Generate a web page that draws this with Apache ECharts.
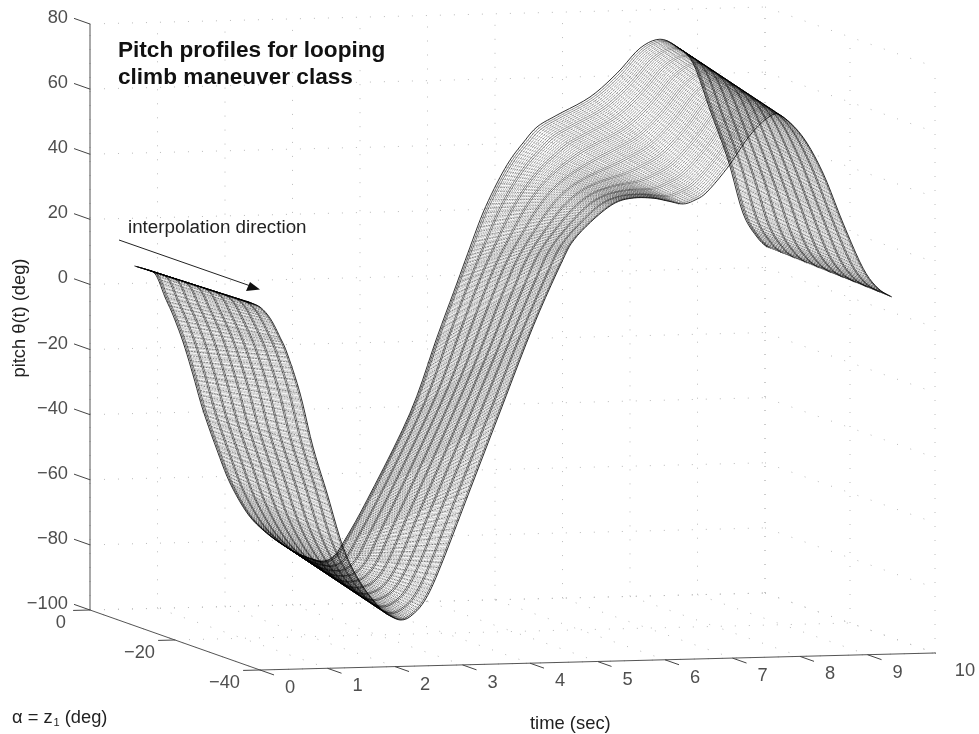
<!DOCTYPE html>
<html><head><meta charset="utf-8">
<style>html,body{margin:0;padding:0;background:#fff}#c{width:979px;height:734px;filter:blur(0.5px)}</style>
<script src="https://cdn.jsdelivr.net/npm/echarts@6/dist/echarts.min.js"></script>
</head><body><div id="c"></div>
<script>
// Axis ticks
const pitchTicks = [-100,-80,-60,-40,-20,0,20,40,60,80];
const timeTicks = [0,1,2,3,4,5,6,7,8,9,10];
const alphaTicks = [0,-20,-40];
// Edge profiles: corresponding knots on the two outer curves
const alphaFront = -37;
const timeFront = [0,.085,.189,.293,.381,.485,.589,.781,.974,1.181,1.419,1.67,1.967,2.144,2.293,2.441,2.633,2.856,3.3,3.744,4.233,4.66,4.84,5.15,5.447,5.715,6.011,6.233,6.456,6.633,6.811,7.122,7.448,7.744,7.922,8.233,8.53,8.826,9.122,9.344,9.55];
const pitchFront = [11.8,11.1,10,7.8,5,.6,-4.3,-16.7,-33.4,-47.6,-64.3,-75.2,-83.4,-86.2,-87.2,-85.8,-81.3,-71.5,-47.8,-24.1,1.8,21.5,28.2,34.7,39.2,40.6,40.4,39.4,38.4,39.5,41.9,49.4,59,64.7,64.6,58,46.8,31.3,17.3,11,8.2];
const alphaBack = -10.5;
const timeBack = [0,.154,.273,.347,.45,.569,.717,.865,1.013,1.221,1.413,1.665,1.902,2.154,2.406,2.599,2.776,2.939,3.087,3.443,4.08,4.48,4.776,4.969,5.16,5.369,5.561,5.754,5.961,6.258,6.747,7.147,7.487,7.783,8.036,8.273,8.524,8.791,9.013,9.22,9.369];
const pitchBack = [10.5,9.5,8.5,6.3,.7,-4.9,-13.2,-23.4,-34.3,-46.7,-56.9,-66.2,-71.6,-75.7,-78.9,-80.6,-81.6,-80.4,-76.2,-63.2,-36.8,-13.7,2.8,13.7,24.1,33.2,40.1,45.3,50.1,53.6,58.9,66,73.5,76.1,73.6,68.5,54,38.5,22,14.6,11.4];

// View of the 3-D box on the page plane (oblique view used by the figure)
const viewT = 2.5185/40, shearT = 0.5221, shearA = 0.4607;
const proj = (t,a,z) => [t - a*viewT, z + shearT*t + shearA*a];
const uMax = proj(10,-40,0)[0];
const pxPerU = 845/uMax;

function seg(list){const out=[];list.forEach(p=>{out.push(proj(...p[0]),proj(...p[1]),[null,null]);});return out;}
const zTop=80, zBot=-100;
const gridSegs=[];
timeTicks.forEach(t=>{gridSegs.push([[t,0,zBot],[t,0,zTop]],[[t,0,zBot],[t,-40,zBot]]);});
alphaTicks.forEach(a=>{gridSegs.push([[10,a,zBot],[10,a,zTop]],[[0,a,zBot],[10,a,zBot]]);});
pitchTicks.forEach(z=>{gridSegs.push([[0,0,z],[10,0,z]],[[10,0,z],[10,-40,z]]);});
const axisSegs=[[[0,0,zBot],[0,0,zTop]],[[0,0,zBot],[0,-40,zBot]],[[0,-40,zBot],[10,-40,zBot]]];
const tickSegs=[];
pitchTicks.forEach(z=>tickSegs.push([[0,0,z],[0,3.76,z]]));
alphaTicks.forEach(a=>tickSegs.push([[0,a,zBot],[-.25,a,zBot]]));
timeTicks.forEach(t=>tickSegs.push([[t,-40,zBot],[t,-43.3,zBot]]));

function cr(arr,i,x){const p0=arr[Math.max(i-1,0)],p1=arr[i],p2=arr[i+1],p3=arr[Math.min(i+2,arr.length-1)];
  return .5*(2*p1+(p2-p0)*x+(2*p0-5*p1+4*p2-p3)*x*x+(3*p1-p0-3*p2+p3)*x*x*x);}
const linesAcross=72, bandEvery=7;
// how strongly the dark stripes show along the surface (they fade over the crest)
function stripe(i){ if(i<=20) return 1; if(i<=29) return 1-(i-20)/9; if(i<=32) return 0; if(i<=35) return (i-32)/3; return 1; }
function renderCell(params,api){
  const i=params.dataIndex; if(i>=timeFront.length-1) return null;
  const children=[];
  const pt=(x,f)=>{const t=(1-f)*cr(timeFront,i,x)+f*cr(timeBack,i,x), z=(1-f)*cr(pitchFront,i,x)+f*cr(pitchBack,i,x), a=(1-f)*alphaFront+f*alphaBack;
    return api.coord(proj(t,a,z));};
  const w=stripe(i);
  const steps=5;
  for(let m=0;m<=linesAcross;m++){
    const f=m/linesAcross, pts=[]; for(let k=0;k<=steps;k++)pts.push(pt(k/steps,f));
    const r=m%bandEvery, dark=(r<2);
    const edge=(m===0||m===linesAcross);
    const al= edge?.8: dark? .46+.2*w : .44-.16*w;
    children.push({type:'polyline',shape:{points:pts},style:{fill:null,stroke:'rgba(0,0,0,'+al+')',lineWidth:edge?1:.9,lineDash:(edge||dark)?null:[3,.8]},silent:true});
  }
  const dt=((timeFront[i+1]-timeFront[i])+(timeBack[i+1]-timeBack[i]))/2;
  const n=Math.max(1,Math.round(dt/(.05-.024*w)));
  for(let k=0;k<n;k++){
    const al=.18+.3*w;
    children.push({type:'polyline',shape:{points:[pt(k/n,0),pt(k/n,.5),pt(k/n,1)]},style:{fill:null,stroke:'rgba(0,0,0,'+al+')',lineWidth:.9,lineDash:[1.6,1.2]},silent:true});
  }
  return {type:'group',children};
}
const labelSeries=(items)=>({type:'scatter',symbolSize:0,silent:true,clip:false,z:5,
  data:items.map(d=>({value:d.pos,label:{show:true,formatter:d.text,position:'inside',offset:d.off,align:d.align,verticalAlign:'middle',color:'#222',fontSize:18.3,fontFamily:'Liberation Sans'}}))});
const fmt=v=>String(v).replace('-','\u2212');

const chart=echarts.init(document.getElementById('c'),null,{renderer:'canvas'});
const uPad=1;
chart.setOption({
  animation:false,backgroundColor:'#fff',
  grid:{left:90-pxPerU*uPad,top:24,width:845+pxPerU*uPad,height:586},
  title:{text:'Pitch profiles for looping\nclimb maneuver class',left:113,top:32,textStyle:{fontFamily:'Liberation Sans',fontWeight:'bold',fontSize:22.6,lineHeight:27,color:'#111'}},
  xAxis:{type:'value',min:-uPad,max:uMax,show:false},
  yAxis:{type:'value',min:-100,max:80,interval:20,show:false},
  series:[
    {type:'line',clip:false,symbol:'none',silent:true,z:1,data:seg(gridSegs),lineStyle:{color:'#bbb',width:1,type:[1,13]}},
    {type:'custom',clip:false,z:3,silent:true,progressive:0,renderItem:renderCell,
      data:timeFront.map((t,i)=>[t,pitchFront[i],timeBack[i],pitchBack[i]])},
    {type:'line',clip:false,symbol:'none',silent:true,z:4,data:seg(axisSegs),lineStyle:{color:'#555',width:1}},
    {type:'line',clip:false,symbol:'none',silent:true,z:4,data:seg(tickSegs),lineStyle:{color:'#444',width:1}},
    labelSeries(pitchTicks.map(z=>({pos:proj(0,0,z),text:fmt(z),off:[-22,-6],align:'right'}))),
    labelSeries(alphaTicks.map(a=>({pos:proj(0,a,zBot),text:fmt(a),off:[a===0?-24:-20,13],align:'right'}))),
    labelSeries(timeTicks.map(t=>({pos:proj(t,-40,zBot),text:fmt(t),off:[30,18],align:'center'})))
  ],
  graphic:[
    {type:'text',left:128,top:218,style:{text:'interpolation direction',fontFamily:'Liberation Sans',fontSize:18.8,fill:'#222'}},
    {type:'line',shape:{x1:119,y1:240,x2:252,y2:286.5},style:{stroke:'#222',lineWidth:1}},
    {type:'polygon',shape:{points:[[260,289.5],[246,291],[250,282]]},style:{fill:'#111'}},
    {type:'text',x:20,y:318,rotation:Math.PI/2,style:{text:'pitch \u03b8(t) (deg)',align:'center',verticalAlign:'middle',fontFamily:'Liberation Sans',fontSize:18.3,fill:'#222'}},
    {type:'text',left:530,top:715,style:{text:'time (sec)',fontFamily:'Liberation Sans',fontSize:18.4,fill:'#222'}},
    {type:'text',left:12,top:709,style:{rich:{n:{fontFamily:'Liberation Sans',fontSize:18.3,fill:'#222'},s:{fontFamily:'Liberation Sans',fontSize:11,fill:'#222',padding:[10,0,0,1]}},text:'{n|\u03b1 = z}{s|1}{n| (deg)}'}}
  ]
});
</script></body></html>
